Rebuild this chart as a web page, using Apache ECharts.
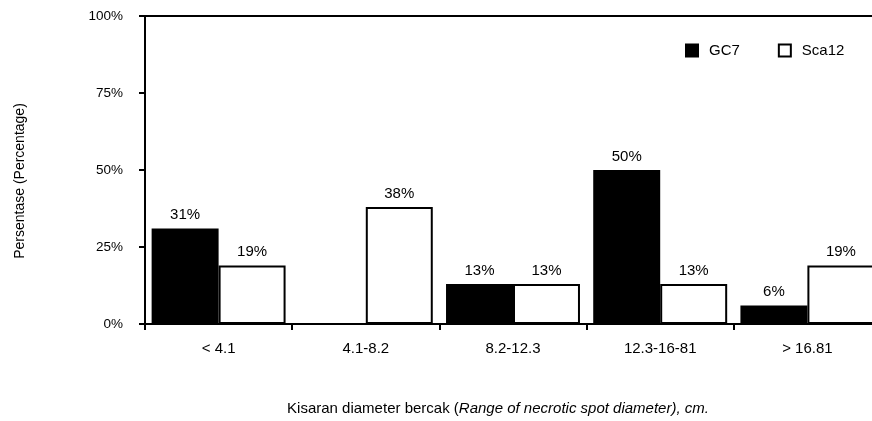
<!DOCTYPE html>
<html>
<head>
<meta charset="utf-8">
<script src="https://cdn.jsdelivr.net/npm/echarts@6/dist/echarts.min.js"></script>
<style>
  html, body { margin: 0; padding: 0; background: #fff; }
  #main { width: 872px; height: 421px; }
</style>
</head>
<body>
<div id="main"></div>
<script>
// data
var categories = ['< 4.1', '4.1-8.2', '8.2-12.3', '12.3-16-81', '> 16.81'];
var gc7 = [31, 0, 13, 50, 6];
var sca12 = [19, 38, 13, 13, 19];
var yTicks = [0, 25, 50, 75, 100];

var font = '"Liberation Sans", Arial, sans-serif';

var chart = echarts.init(document.getElementById('main'));

function pct(p) {
  return p.value ? p.value + '%' : '';
}

chart.setOption({
  animation: false,
  textStyle: { fontFamily: font },
  grid: {
    left: 145,
    top: 16,
    width: 736,
    bottom: 97,
    outerBoundsMode: 'none',
    containLabel: false,
    show: true,
    borderColor: '#000',
    borderWidth: 2
  },
  legend: {
    left: 680,
    top: 38,
    itemWidth: 12,
    itemHeight: 12,
    itemGap: 38,
    icon: 'rect',
    textStyle: { fontSize: 15, color: '#000', fontFamily: font, padding: [0, 0, 0, 6] },
    data: ['GC7', 'Sca12']
  },
  xAxis: {
    type: 'category',
    data: categories,
    axisLine: { lineStyle: { color: '#000', width: 2 } },
    axisTick: { show: true, length: 6, lineStyle: { color: '#000', width: 2 } },
    axisLabel: { color: '#000', fontSize: 15, margin: 17, fontFamily: font }
  },
  yAxis: {
    type: 'value',
    min: yTicks[0],
    max: yTicks[yTicks.length - 1],
    interval: 25,
    axisLine: { show: true, lineStyle: { color: '#000', width: 2 } },
    axisTick: { show: true, length: 6, lineStyle: { color: '#000', width: 2 } },
    splitLine: { show: false },
    axisLabel: { color: '#000', fontSize: 13.5, margin: 22, formatter: '{value}%', fontFamily: font }
  },
  series: [
    {
      name: 'GC7',
      type: 'bar',
      data: gc7,
      barGap: 0,
      barCategoryGap: '9%',
      itemStyle: { color: '#000', borderColor: '#000', borderWidth: 2 },
      label: { show: true, position: 'top', distance: 6, color: '#000', fontSize: 15, formatter: pct, fontFamily: font }
    },
    {
      name: 'Sca12',
      type: 'bar',
      data: sca12,
      barGap: 0,
      barCategoryGap: '9%',
      itemStyle: { color: '#fff', borderColor: '#000', borderWidth: 2 },
      label: { show: true, position: 'top', distance: 6, color: '#000', fontSize: 15, formatter: pct, fontFamily: font }
    }
  ],
  graphic: [
    {
      type: 'text',
      x: 498,
      y: 401,
      style: {
        text: '{n|Kisaran diameter bercak (}{i|Range of necrotic spot diameter), cm.}',
        align: 'center',
        verticalAlign: 'top',
        rich: {
          n: { fontSize: 15, fill: '#000', fontFamily: font },
          i: { fontSize: 15, fill: '#000', fontStyle: 'italic', fontFamily: font }
        }
      }
    },
    {
      type: 'text',
      x: 20,
      y: 181,
      rotation: Math.PI / 2,
      style: {
        text: 'Persentase (Percentage)',
        align: 'center',
        verticalAlign: 'middle',
        fontSize: 14,
        fill: '#000',
        fontFamily: font
      }
    }
  ]
});
</script>
</body>
</html>
